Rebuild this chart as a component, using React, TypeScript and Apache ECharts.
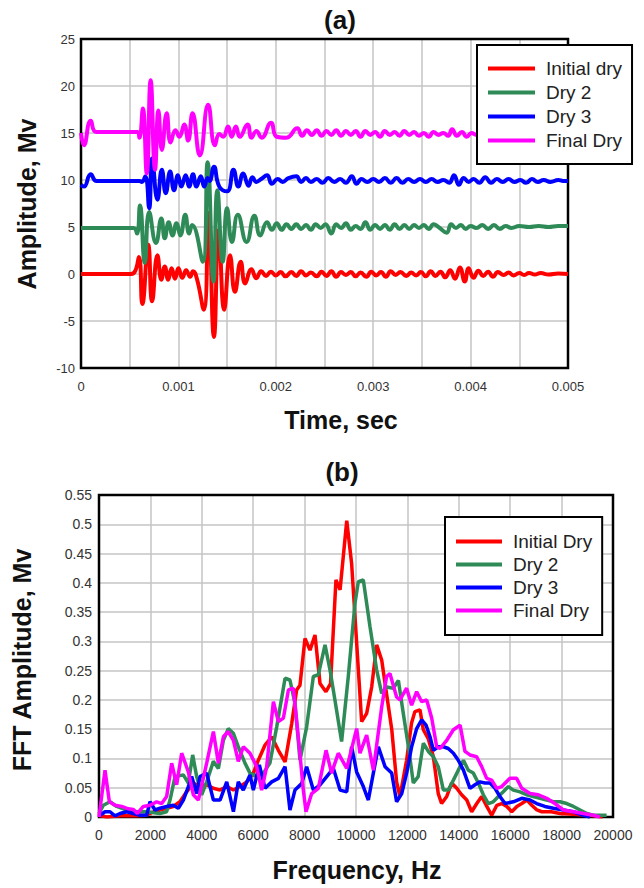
import React, { useEffect, useRef } from 'react';
import * as echarts from 'echarts';

const FONT = '"Liberation Sans", Arial, sans-serif';

// ---------- (a) time signals: [time (ms), amplitude (mV)] ----------
const initialDryWave: [number, number][] = [
  [0, 0], [0.5, 0], [0.55, 0.2], [0.595, 1.8], [0.63, -3.2], [0.69, 3.1], [0.73, -2.9], [0.785, 2.0],
  [0.825, -0.6], [0.86, 0.8], [0.895, -0.6], [0.93, 0.6], [0.965, -0.5], [1.0, 0.6], [1.04, -0.4],
  [1.08, 0.4], [1.12, -0.3], [1.15, 0.3], [1.19, -0.5], [1.26, -3.8], [1.31, 6.5], [1.365, -6.7],
  [1.415, 4.7], [1.47, -3.8], [1.53, 2.0], [1.58, -1.9], [1.64, 1.3], [1.685, -1.0], [1.75, 0.5],
  [1.8, -0.45], [1.85, 0.3], [1.9, -0.2], [1.95, 0.25], [2.0, -0.15], [2.05, 0.2], [2.1, -0.25],
  [2.16, 0.2], [2.21, -0.2], [2.26, 0.3], [2.31, -0.15], [2.36, 0.15], [2.42, -0.25], [2.47, 0.25],
  [2.52, -0.2], [2.57, 0.3], [2.62, -0.3], [2.67, 0.2], [2.72, -0.1], [2.77, 0.2], [2.82, -0.25],
  [2.87, 0.15], [2.93, -0.3], [2.98, 0.25], [3.03, -0.15], [3.08, 0.2], [3.13, -0.3], [3.18, 0.3],
  [3.23, -0.1], [3.28, 0.2], [3.34, -0.2], [3.39, 0.15], [3.44, -0.15], [3.49, 0.2], [3.54, -0.25],
  [3.59, 0.3], [3.64, -0.2], [3.69, 0.25], [3.74, -0.35], [3.79, 0.4], [3.84, -0.5], [3.89, 0.7],
  [3.94, -0.8], [3.98, 0.6], [4.03, -0.4], [4.08, 0.35], [4.13, -0.2], [4.18, 0.25], [4.23, -0.3],
  [4.28, 0.2], [4.34, -0.1], [4.39, 0.15], [4.44, -0.15], [4.5, 0.1], [4.55, -0.1], [4.6, 0.1],
  [4.66, -0.05], [4.72, 0.1], [4.8, -0.05], [4.9, 0.05], [5.0, 0],
];

const dry2Wave: [number, number][] = [
  [0, 4.9], [0.54, 4.9], [0.575, 4.3], [0.605, 7.3], [0.655, 1.2], [0.7, 6.6], [0.77, 3.3], [0.825, 5.9],
  [0.86, 3.8], [0.9, 5.5], [0.94, 4.1], [0.98, 5.4], [1.02, 4.1], [1.07, 6.3], [1.11, 4.3], [1.14, 5.2],
  [1.25, 1.3], [1.3, 11.9], [1.36, -0.8], [1.4, 8.9], [1.455, 1.3], [1.5, 7.0], [1.55, 3.4], [1.61, 6.3],
  [1.7, 3.4], [1.78, 6.2], [1.84, 4.1], [1.91, 5.5], [1.96, 4.7], [2.01, 5.4], [2.06, 4.7], [2.11, 5.3],
  [2.16, 4.8], [2.21, 5.3], [2.26, 4.8], [2.31, 5.2], [2.36, 4.7], [2.41, 5.3], [2.46, 4.9], [2.51, 5.3],
  [2.57, 4.3], [2.62, 5.3], [2.67, 4.9], [2.72, 5.4], [2.77, 4.7], [2.82, 5.1], [2.87, 4.8], [2.92, 5.5],
  [2.97, 4.7], [3.02, 5.2], [3.07, 4.8], [3.12, 5.2], [3.17, 4.7], [3.22, 5.3], [3.27, 4.8], [3.32, 5.2],
  [3.37, 4.8], [3.42, 5.2], [3.47, 4.9], [3.52, 5.2], [3.57, 4.8], [3.62, 5.3], [3.67, 5.0], [3.755, 4.4],
  [3.8, 5.3], [3.85, 4.9], [3.9, 5.2], [3.95, 4.8], [4.0, 5.1], [4.06, 4.9], [4.12, 5.2], [4.18, 4.8],
  [4.24, 5.2], [4.3, 4.8], [4.36, 5.1], [4.42, 4.9], [4.5, 5.1], [4.6, 5.0], [4.7, 5.1], [4.8, 5.0],
  [4.9, 5.1], [5.0, 5.1],
];

const dry3Wave: [number, number][] = [
  [0, 9.5], [0.03, 9.3], [0.1, 10.6], [0.16, 9.9], [0.6, 9.9], [0.625, 9.8], [0.66, 10.4], [0.7, 7.0],
  [0.73, 12.3], [0.785, 7.9], [0.83, 11.1], [0.87, 8.6], [0.915, 10.9], [0.955, 8.9], [0.995, 10.5],
  [1.03, 9.3], [1.075, 10.5], [1.11, 9.3], [1.15, 10.6], [1.185, 9.3], [1.23, 10.4], [1.265, 9.3],
  [1.3, 10.2], [1.32, 9.9], [1.365, 11.4], [1.42, 9.3], [1.5, 8.8], [1.565, 11.1], [1.615, 9.3],
  [1.665, 10.7], [1.72, 9.4], [1.76, 10.3], [1.8, 9.8], [1.85, 10.1], [1.91, 10.5], [1.96, 9.6],
  [2.02, 10.1], [2.07, 9.8], [2.13, 10.2], [2.21, 10.4], [2.26, 9.8], [2.31, 10.2], [2.36, 9.8],
  [2.42, 10.1], [2.48, 9.7], [2.54, 10.2], [2.6, 9.8], [2.66, 10.1], [2.72, 9.7], [2.78, 10.4],
  [2.83, 9.6], [2.88, 10.1], [2.94, 9.8], [3.0, 10.1], [3.06, 9.8], [3.12, 10.2], [3.18, 9.7],
  [3.24, 10.2], [3.3, 9.7], [3.36, 10.1], [3.42, 9.8], [3.48, 10.1], [3.54, 9.8], [3.6, 10.1],
  [3.66, 9.8], [3.72, 10.0], [3.78, 9.7], [3.83, 10.5], [3.88, 9.5], [3.93, 10.2], [3.98, 9.8],
  [4.03, 10.1], [4.09, 9.7], [4.15, 10.3], [4.21, 9.7], [4.27, 10.1], [4.33, 9.8], [4.39, 10.1],
  [4.45, 9.8], [4.51, 10.0], [4.57, 9.7], [4.63, 10.1], [4.69, 9.8], [4.75, 10.0], [4.82, 9.8],
  [4.9, 10.0], [4.95, 9.9], [5.0, 9.9],
];

const finalDryWave: [number, number][] = [
  [0, 15.0], [0.03, 13.7], [0.1, 16.3], [0.16, 15.1], [0.58, 15.1], [0.6, 14.5], [0.635, 17.6],
  [0.675, 10.7], [0.715, 20.6], [0.76, 11.1], [0.795, 17.4], [0.83, 13.2], [0.88, 17.1], [0.92, 14.0],
  [0.97, 15.3], [1.01, 14.6], [1.06, 15.9], [1.1, 14.2], [1.145, 17.1], [1.22, 12.6], [1.305, 18.0],
  [1.375, 13.7], [1.42, 14.9], [1.46, 14.6], [1.51, 15.7], [1.547, 14.6], [1.59, 15.7], [1.63, 14.6],
  [1.71, 15.9], [1.75, 14.5], [1.8, 15.2], [1.855, 14.5], [1.95, 16.1], [2.01, 14.6], [2.11, 14.5],
  [2.22, 15.5], [2.27, 14.7], [2.32, 15.3], [2.37, 14.8], [2.42, 15.3], [2.47, 14.7], [2.52, 15.2],
  [2.57, 14.8], [2.62, 15.3], [2.67, 14.7], [2.72, 15.2], [2.77, 14.8], [2.82, 15.2], [2.87, 14.6],
  [2.92, 15.2], [2.97, 14.8], [3.02, 15.1], [3.07, 14.6], [3.12, 15.2], [3.17, 14.8], [3.22, 15.1],
  [3.27, 14.7], [3.32, 15.2], [3.37, 14.8], [3.42, 15.1], [3.47, 14.7], [3.52, 15.0], [3.57, 14.6],
  [3.62, 15.1], [3.67, 14.8], [3.72, 15.0], [3.77, 14.7], [3.81, 15.4], [3.86, 14.7], [3.91, 15.1],
  [3.96, 14.6], [4.01, 15.0], [4.06, 14.8], [4.12, 15.1], [4.18, 14.8], [4.24, 15.0], [4.3, 14.7],
  [4.36, 15.1], [4.42, 14.8], [4.5, 15.0], [4.6, 14.8], [4.7, 15.0], [4.8, 14.8], [4.9, 15.0], [5.0, 14.9],
];

// ---------- (b) spectra: [frequency (Hz), FFT amplitude (mV)] ----------
const initialDrySpec: [number, number][] = [
  [0, 0.003], [300, 0], [820, 0.002], [1470, 0.002], [1850, 0.003], [2120, 0.009], [2370, 0.012],
  [2630, 0.015], [2890, 0.018], [3150, 0.026], [3410, 0.043], [3670, 0.058], [3930, 0.052],
  [4190, 0.055], [4450, 0.049], [4710, 0.046], [4970, 0.052], [5230, 0.046], [5490, 0.052],
  [5750, 0.06], [6005, 0.075], [6200, 0.097], [6460, 0.123], [6720, 0.137], [6980, 0.114],
  [7240, 0.094], [7500, 0.16], [7690, 0.217], [7820, 0.225], [8015, 0.305], [8210, 0.285],
  [8405, 0.311], [8600, 0.228], [8830, 0.214], [9010, 0.228], [9220, 0.405], [9380, 0.388],
  [9640, 0.506], [9830, 0.433], [10220, 0.163], [10415, 0.177], [10610, 0.222], [10805, 0.294],
  [11000, 0.268], [11190, 0.21], [11390, 0.15], [11580, 0.06], [11710, 0.035], [11970, 0.097],
  [12160, 0.16], [12290, 0.18], [12490, 0.183], [12620, 0.149], [12810, 0.134], [13010, 0.103],
  [13200, 0.04], [13330, 0.023], [13530, 0.035], [13720, 0.058], [13920, 0.049], [14110, 0.038],
  [14310, 0.029], [14500, 0.009], [14700, 0.023], [14890, 0.035], [15090, 0.018], [15280, 0.003],
  [15480, 0.02], [15670, 0.023], [15870, 0.018], [16060, 0.009], [16260, 0.018], [16450, 0.023],
  [16650, 0.029], [16840, 0.02], [17040, 0.012], [17230, 0.009], [17600, 0.009], [17940, 0.006],
  [18300, 0.005], [18960, 0.003], [19300, 0.002], [19600, 0],
];

const dry2Spec: [number, number][] = [
  [0, 0.006], [170, 0.02], [430, 0.026], [690, 0.018], [1080, 0.012], [1470, 0.009], [1850, 0.009],
  [2370, 0.006], [2630, 0.009], [2763, 0.029], [2958, 0.069], [3282, 0.072], [3476, 0.058],
  [3645, 0.106], [3801, 0.069], [3995, 0.038], [4190, 0.06], [4450, 0.095], [4645, 0.083],
  [4840, 0.131], [5030, 0.151], [5230, 0.143], [5420, 0.12], [5680, 0.092], [5875, 0.075],
  [6135, 0.069], [6395, 0.075], [6650, 0.092], [6915, 0.154], [7240, 0.237], [7430, 0.234],
  [7625, 0.194], [7820, 0.097], [8080, 0.154], [8340, 0.24], [8535, 0.243], [8795, 0.294],
  [8990, 0.251], [9180, 0.2], [9440, 0.129], [9700, 0.24], [9960, 0.365], [10090, 0.402],
  [10285, 0.405], [10545, 0.325], [10805, 0.251], [11000, 0.211], [11190, 0.222], [11450, 0.22],
  [11650, 0.233], [11840, 0.177], [12040, 0.12], [12230, 0.058], [12420, 0.069], [12620, 0.126],
  [12815, 0.112], [13010, 0.103], [13200, 0.086], [13400, 0.046], [13590, 0.046], [13790, 0.063],
  [13980, 0.08], [14180, 0.097], [14370, 0.08], [14565, 0.075], [14760, 0.058], [14955, 0.038],
  [15150, 0.023], [15340, 0.026], [15540, 0.035], [15730, 0.043], [15930, 0.052], [16120, 0.046],
  [16380, 0.043], [16640, 0.038], [16900, 0.035], [17160, 0.032], [17420, 0.029], [17680, 0.026],
  [17940, 0.026], [18200, 0.023], [18460, 0.018], [18720, 0.012], [18980, 0.006], [19230, 0.003],
  [19750, 0.003],
];

const dry3Spec: [number, number][] = [
  [40, 0.003], [234, 0.009], [428, 0.009], [623, 0.002], [818, 0.006], [1077, 0.009], [1336, 0.006],
  [1596, 0.003], [1855, 0.003], [1985, 0.026], [2180, 0.012], [2374, 0.015], [2633, 0.018],
  [2893, 0.02], [3087, 0.015], [3282, 0.029], [3477, 0.052], [3606, 0.069], [3801, 0.04],
  [3930, 0.069], [4190, 0.075], [4450, 0.029], [4710, 0.029], [4970, 0.06], [5230, 0.009],
  [5420, 0.06], [5615, 0.046], [5875, 0.072], [6005, 0.046], [6240, 0.089], [6460, 0.049],
  [6720, 0.06], [6980, 0.066], [7240, 0.086], [7430, 0.012], [7625, 0.046], [7885, 0.057],
  [8080, 0.086], [8340, 0.046], [8600, 0.055], [8860, 0.069], [9120, 0.083], [9380, 0.046],
  [9640, 0.043], [9830, 0.12], [10025, 0.077], [10285, 0.052], [10480, 0.029], [10675, 0.075],
  [10870, 0.12], [11130, 0.086], [11390, 0.075], [11580, 0.026], [11780, 0.04], [11970, 0.075],
  [12165, 0.12], [12360, 0.151], [12555, 0.166], [12725, 0.157], [12880, 0.137], [13010, 0.114],
  [13200, 0.12], [13400, 0.12], [13590, 0.117], [13790, 0.109], [13980, 0.097], [14180, 0.08],
  [14435, 0.049], [14630, 0.055], [14825, 0.06], [15020, 0.058], [15215, 0.058], [15410, 0.049],
  [15600, 0.035], [15800, 0.023], [16120, 0.026], [16450, 0.032], [16770, 0.029], [17030, 0.023],
  [17350, 0.018], [17680, 0.015], [18070, 0.012], [18460, 0.009], [18850, 0.003], [19100, 0],
];

const finalDrySpec: [number, number][] = [
  [0, 0], [234, 0.08], [403, 0.026], [623, 0.02], [882, 0.018], [1142, 0.014], [1336, 0.013],
  [1492, 0.006], [1725, 0.018], [1985, 0.02], [2244, 0.026], [2439, 0.023], [2633, 0.035],
  [2828, 0.092], [3022, 0.055], [3217, 0.109], [3477, 0.077], [3671, 0.038], [3866, 0.029],
  [4190, 0.092], [4450, 0.146], [4645, 0.092], [4840, 0.137], [5030, 0.146], [5230, 0.131],
  [5420, 0.095], [5615, 0.12], [5875, 0.109], [6135, 0.086], [6330, 0.046], [6525, 0.086],
  [6785, 0.197], [6980, 0.163], [7175, 0.169], [7370, 0.217], [7560, 0.22], [7755, 0.137],
  [7950, 0.046], [8055, 0.009], [8275, 0.04], [8535, 0.049], [8835, 0.114], [9050, 0.075],
  [9310, 0.109], [9640, 0.083], [10025, 0.151], [10155, 0.109], [10415, 0.14], [10675, 0.08],
  [11000, 0.188], [11190, 0.24], [11320, 0.245], [11580, 0.205], [11710, 0.2], [11970, 0.22],
  [12165, 0.191], [12360, 0.214], [12555, 0.197], [12750, 0.2], [12945, 0.169], [13140, 0.12],
  [13270, 0.117], [13530, 0.131], [13790, 0.149], [14050, 0.157], [14240, 0.112], [14435, 0.106],
  [14695, 0.103], [14890, 0.086], [15085, 0.066], [15280, 0.063], [15475, 0.049], [15670, 0.052],
  [15990, 0.066], [16250, 0.066], [16450, 0.049], [16770, 0.04], [17095, 0.038], [17420, 0.032],
  [17740, 0.023], [18070, 0.012], [18460, 0.009], [18850, 0.006], [19230, 0.003], [19490, 0],
];

const waveNames = ['Initial dry', 'Dry 2', 'Dry 3', 'Final Dry'];
const specNames = ['Initial Dry', 'Dry 2', 'Dry 3', 'Final Dry'];
const colors = ['#ff0000', '#2e8b57', '#0000ff', '#ff00ff'];
const waves = [initialDryWave, dry2Wave, dry3Wave, finalDryWave];
const specs = [initialDrySpec, dry2Spec, dry3Spec, finalDrySpec];

const GRID_LINE = { color: '#c4c4c4', width: 1.5 };
const LABEL = { color: '#333', fontFamily: FONT };

export default function App() {
  const ref = useRef<HTMLDivElement>(null);

  useEffect(() => {
    document.body.style.margin = '0';
    if (!ref.current) return;
    const chart = echarts.init(ref.current, undefined, { renderer: 'svg' });

    const titleText = (text: string, x: number, y: number, size: number, rot = 0) => ({
      type: 'text',
      x,
      y,
      rotation: rot,
      z: 10,
      style: {
        text,
        fill: '#111',
        font: `bold ${size}px ${FONT}`,
        fontSize: size,
        fontWeight: 'bold',
        fontFamily: FONT,
        textAlign: 'center',
        textVerticalAlign: 'middle',
        align: 'center',
        verticalAlign: 'middle',
      },
    });

    const frame = (x: number, y: number, width: number, height: number) => ({
      type: 'rect',
      z: 3,
      shape: { x, y, width, height },
      style: { fill: 'none', stroke: '#000', lineWidth: 2.5 },
      silent: true,
    });

    const legendBase = {
      orient: 'vertical',
      icon: 'rect',
      itemHeight: 4,
      backgroundColor: '#fff',
      borderColor: '#000',
      borderWidth: 2,
      borderRadius: 0,
      selectedMode: false,
      z: 6,
      textStyle: { color: '#222', fontSize: 19, fontFamily: FONT, lineHeight: 19, padding: [0, 0, 0, 6] },
    };

    const option: any = {
      animation: false,
      backgroundColor: '#fff',
      grid: [
        { left: 81, top: 39, width: 487, height: 329, show: false },
        { left: 99, top: 495, width: 514, height: 322, show: false },
      ],
      xAxis: [
        {
          type: 'value', gridIndex: 0, min: 0, max: 0.005, interval: 0.0005,
          axisLine: { show: false }, axisTick: { show: false },
          splitLine: { show: true, lineStyle: GRID_LINE },
          axisLabel: {
            ...LABEL, fontSize: 13, margin: 12, showMinLabel: true, showMaxLabel: true, hideOverlap: false,
            formatter: (v: number) => {
              const k = Math.round(v * 10000);
              if (k % 10 !== 0) return '';
              return k === 0 ? '0' : (k / 10000).toFixed(3);
            },
          },
        },
        {
          type: 'value', gridIndex: 1, min: 0, max: 20000, interval: 2000,
          axisLine: { show: false }, axisTick: { show: false },
          splitLine: { show: true, lineStyle: GRID_LINE },
          axisLabel: {
            ...LABEL, fontSize: 14, margin: 11, showMinLabel: true, showMaxLabel: true, hideOverlap: false,
            formatter: (v: number) => String(Math.round(v)),
          },
        },
      ],
      yAxis: [
        {
          type: 'value', gridIndex: 0, min: -10, max: 25, interval: 5,
          axisLine: { show: false }, axisTick: { show: false },
          splitLine: { show: true, lineStyle: GRID_LINE },
          axisLabel: { ...LABEL, fontSize: 13, margin: 6, formatter: (v: number) => String(Math.round(v)) },
        },
        {
          type: 'value', gridIndex: 1, min: 0, max: 0.55, interval: 0.05,
          axisLine: { show: false }, axisTick: { show: false },
          splitLine: { show: true, lineStyle: GRID_LINE },
          axisLabel: { ...LABEL, fontSize: 14, margin: 7, formatter: (v: number) => String(Math.round(v * 100) / 100) },
        },
      ],
      legend: [
        {
          ...legendBase,
          data: waveNames,
          left: 477, top: 45,
          itemWidth: 47, itemGap: 5,
          padding: [14, 10, 14, 11],
        },
        {
          ...legendBase,
          data: specNames,
          left: 445, top: 517,
          itemWidth: 46, itemGap: 4,
          padding: [15, 10, 15, 11],
        },
      ],
      graphic: [
        frame(81, 39, 487, 329),
        frame(99, 495, 514, 322),
        titleText('(a)', 340, 20, 26),
        titleText('Amplitude, Mv', 27, 204, 25, Math.PI / 2),
        titleText('Time, sec', 341, 420, 25),
        titleText('(b)', 342, 472, 26),
        titleText('FFT Amplitude, Mv', 22, 660, 25, Math.PI / 2),
        titleText('Frequency, Hz', 357, 870, 25),
      ],
      series: [
        ...waves.map((w, i) => ({
          name: waveNames[i],
          type: 'line',
          xAxisIndex: 0,
          yAxisIndex: 0,
          data: w.map(([t, v]) => [t / 1000, v]),
          showSymbol: false,
          symbol: 'none',
          smooth: 0.5,
          lineStyle: { color: colors[i], width: 4 },
          itemStyle: { color: colors[i] },
        })),
        ...specs.map((s, i) => ({
          name: specNames[i],
          type: 'line',
          xAxisIndex: 1,
          yAxisIndex: 1,
          data: s,
          showSymbol: false,
          symbol: 'none',
          lineStyle: { color: colors[i], width: 3.5 },
          itemStyle: { color: colors[i] },
        })),
      ],
    };

    chart.setOption(option);
    return () => chart.dispose();
  }, []);

  return <div ref={ref} style={{ width: 644, height: 888 }} />;
}
